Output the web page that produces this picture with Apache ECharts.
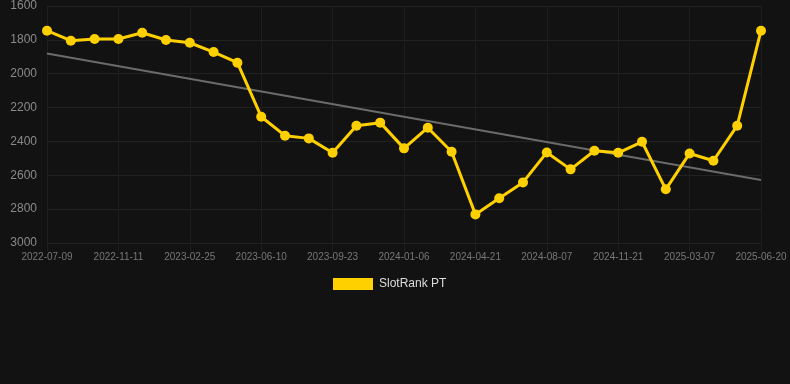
<!DOCTYPE html>
<html>
<head>
<meta charset="utf-8">
<script src="https://cdn.jsdelivr.net/npm/echarts@6/dist/echarts.min.js"></script>
<style>
html,body{margin:0;padding:0;background:#121212;}
#c{width:790px;height:384px;}
</style>
</head>
<body>
<div id="c"></div>
<script>
const categories = [
  '2022-07-09','2022-08-20','2022-10-01','2022-11-11','2022-12-16','2023-01-20',
  '2023-02-25','2023-04-01','2023-05-06','2023-06-10','2023-07-15','2023-08-19',
  '2023-09-23','2023-10-28','2023-12-02','2024-01-06','2024-02-10','2024-03-16',
  '2024-04-21','2024-05-30','2024-06-29','2024-08-07','2024-09-14','2024-10-18',
  '2024-11-21','2024-12-26','2025-01-30','2025-03-07','2025-04-11','2025-05-16',
  '2025-06-20'
];
const rankValues = [
  1746, 1805, 1795, 1795, 1758, 1801, 1817, 1872, 1935, 2254, 2366, 2382,
  2467, 2307, 2289, 2441, 2319, 2461, 2831, 2736, 2642, 2465, 2565, 2455,
  2467, 2402, 2683, 2471, 2514, 2307, 1746
];
const trendStart = 1880;
const trendEnd = 2628;
const seriesName = 'SlotRank PT';

const trendValues = categories.map((c, i) => (i === 0 ? trendStart : (i === categories.length - 1 ? trendEnd : null)));

const chart = echarts.init(document.getElementById('c'), null, {renderer: 'canvas'});
chart.setOption({
  backgroundColor: '#121212',
  animation: false,
  grid: {left: 47, right: 29, top: 6, bottom: 141},
  legend: {
    data: [seriesName],
    top: 273,
    left: 328,
    itemWidth: 40,
    itemHeight: 12,
    itemGap: 10,
    icon: 'rect',
    textStyle: {color: '#dddddd', fontSize: 12, fontFamily: 'Liberation Sans, Arial, sans-serif', padding: [0, 0, 0, 1]}
  },
  xAxis: {
    type: 'category',
    data: categories,
    boundaryGap: false,
    axisLine: {show: false},
    axisTick: {show: true, interval: 2, length: 8, lineStyle: {color: '#1e1e1e'}},
    axisLabel: {interval: 2, color: '#777777', fontSize: 10, margin: 9, fontFamily: 'Liberation Sans, Arial, sans-serif'},
    splitLine: {show: true, interval: 2, lineStyle: {color: '#1e1e1e', width: 1}}
  },
  yAxis: {
    type: 'value',
    inverse: true,
    min: 1600,
    max: 3000,
    interval: 200,
    axisLine: {show: false},
    axisTick: {show: false},
    axisLabel: {color: '#8a8a8a', fontSize: 12, margin: 10, fontFamily: 'Liberation Sans, Arial, sans-serif', formatter: v => String(v)},
    splitLine: {lineStyle: {color: '#222222', width: 1}}
  },
  series: [
    {
      name: 'trend',
      type: 'line',
      data: trendValues,
      connectNulls: true,
      symbol: 'none',
      lineStyle: {color: '#6b6b6b', width: 2},
      z: 1,
      silent: true
    },
    {
      name: seriesName,
      type: 'line',
      data: rankValues,
      symbol: 'circle',
      symbolSize: 10,
      itemStyle: {color: '#FFD000'},
      lineStyle: {color: '#FFD000', width: 3},
      z: 3
    }
  ]
});
</script>
</body>
</html>
